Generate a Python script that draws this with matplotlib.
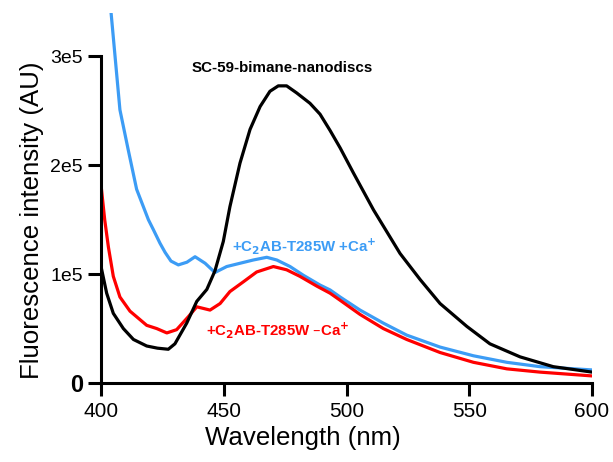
import numpy as np
import matplotlib
matplotlib.use('Agg')
import matplotlib.pyplot as plt

plt.rcParams['font.family'] = ['Liberation Sans', 'DejaVu Sans']

# wavelength (nm) and intensity (AU)
wl_black = [400, 402.3, 405, 409.1, 413.2, 418.6, 423, 427.4, 430.1, 434.9, 439, 443.1, 446.4,
            449.8, 452.5, 456.6, 460.7, 464.8, 468.8, 472.2, 475.6, 479.7, 485.1, 489.2,
            493.3, 497.4, 502.8, 511, 521.8, 530, 538.1, 549, 558.4, 570.7, 584.2, 600]
int_black = [1.07e5, 0.825e5, 0.64e5, 0.50e5, 0.40e5, 0.34e5, 0.32e5, 0.31e5, 0.36e5, 0.55e5,
             0.75e5, 0.86e5, 1.03e5, 1.30e5, 1.62e5, 2.02e5, 2.33e5, 2.54e5, 2.68e5, 2.73e5,
             2.73e5, 2.665e5, 2.57e5, 2.47e5, 2.32e5, 2.16e5, 1.93e5, 1.59e5, 1.19e5, 0.95e5,
             0.73e5, 0.52e5, 0.36e5, 0.24e5, 0.15e5, 0.10e5]

wl_blue = [400, 404.1, 407.7, 411.1, 414.5, 419.3, 421.3, 424, 426.1, 428.5, 431.5, 435, 438.3,
           442.4, 446.4, 451.2, 456.6, 462, 467.5, 471.6, 477, 482.4, 489.2, 493.3, 497.4,
           505.5, 515, 524.5, 538.1, 551.7, 565.3, 578.8, 600]
int_blue = [4.3e5, 3.40e5, 2.51e5, 2.14e5, 1.78e5, 1.50e5, 1.41e5, 1.285e5, 1.20e5, 1.12e5,
            1.085e5, 1.11e5, 1.16e5, 1.10e5, 1.015e5, 1.07e5, 1.10e5, 1.13e5, 1.155e5, 1.13e5,
            1.07e5, 0.99e5, 0.90e5, 0.855e5, 0.79e5, 0.67e5, 0.55e5, 0.44e5, 0.33e5, 0.25e5,
            0.19e5, 0.15e5, 0.12e5]

wl_red = [400, 401.5, 403, 405, 407.7, 411.8, 418.6, 422.7, 426.8, 430.8, 435.6, 439, 444.4,
          448.5, 452.5, 458, 463.4, 470.2, 475.6, 481, 487.9, 493.3, 497.4, 505.5, 515, 524.5,
          538.1, 551.7, 565.3, 578.8, 600]
int_red = [1.82e5, 1.50e5, 1.25e5, 0.98e5, 0.79e5, 0.66e5, 0.53e5, 0.50e5, 0.46e5, 0.49e5,
           0.61e5, 0.70e5, 0.67e5, 0.73e5, 0.84e5, 0.93e5, 1.02e5, 1.07e5, 1.04e5, 0.98e5,
           0.89e5, 0.825e5, 0.76e5, 0.63e5, 0.50e5, 0.40e5, 0.28e5, 0.19e5, 0.13e5, 0.10e5,
           0.065e5]

x_ticks = [400, 450, 500, 550, 600]
y_ticks = [0, 1e5, 2e5, 3e5]
y_tick_labels = ['0', '1e5', '2e5', '3e5']

BLUE = '#3c9cf5'
RED = '#ff0000'

fig = plt.figure(figsize=(6.13, 4.62), dpi=100)
ax = fig.add_axes([0.1648, 0.171, 0.801, 0.801])

ax.plot(wl_blue, int_blue, color=BLUE, lw=2.3)
ax.plot(wl_red, int_red, color=RED, lw=2.3)
ax.plot(wl_black, int_black, color='black', lw=2.3)

ax.set_xlim(400, 600)
ax.set_ylim(0, 3.4e5)

for s in ['top', 'right']:
    ax.spines[s].set_visible(False)
for s in ['left', 'bottom']:
    ax.spines[s].set_linewidth(2.2)
ax.spines['left'].set_bounds(0, 3e5)

ax.set_xticks(x_ticks)
ax.set_xticklabels([str(v) for v in x_ticks])
ax.set_yticks(y_ticks)
ax.set_yticklabels(y_tick_labels)
ax.tick_params(direction='out', length=9.5, width=2.2)
ax.tick_params(axis='x', labelsize=15, pad=4.3)
ax.tick_params(axis='y', labelsize=14, pad=3.6)
lab0 = ax.get_yticklabels()[0]
lab0.set_fontweight('bold')
lab0.set_fontsize(17)

ax.set_xlabel('Wavelength (nm)', fontsize=18.6)
ax.xaxis.set_label_coords(0.412, -0.115)
ax.set_ylabel('Fluorescence intensity (AU)', fontsize=18.6)
ax.yaxis.set_label_coords(-0.116, 0.441)

ax.text(474, 2.89e5, 'SC-59-bimane-nanodiscs', fontsize=10.9, fontweight='bold',
        ha='center', va='center')
ax.text(482.7, 1.26e5, '+C$_\\mathbf{2}$AB-T285W +Ca$^\\mathbf{+}$', fontsize=10.8,
        fontweight='bold', color=BLUE, ha='center', va='center')
ax.text(472.1, 0.49e5, '+C$_\\mathbf{2}$AB-T285W \u2013Ca$^\\mathbf{+}$', fontsize=10.8,
        fontweight='bold', color=RED, ha='center', va='center')

fig.savefig('out.png', dpi=100)
